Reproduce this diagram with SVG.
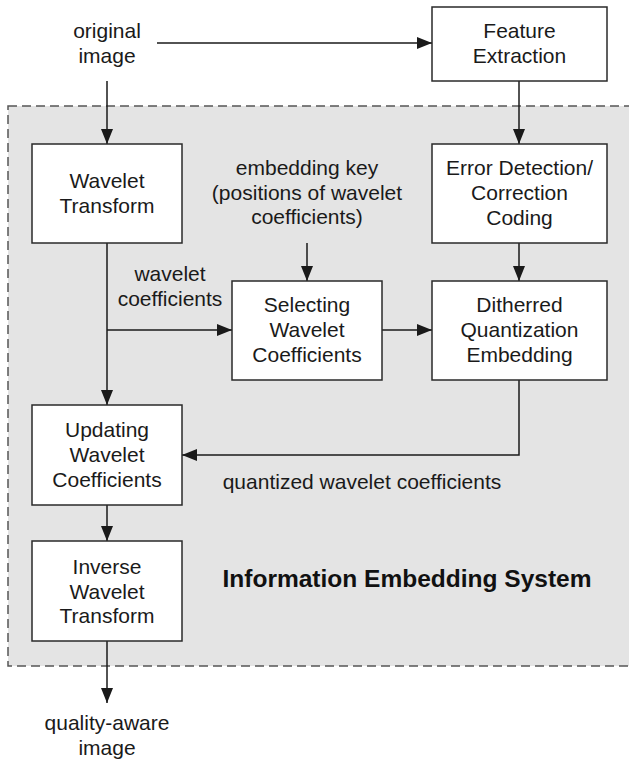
<svg xmlns="http://www.w3.org/2000/svg" width="629" height="759" viewBox="0 0 629 759">
  <style>
    .box { fill: #ffffff; stroke: #2a2a2a; stroke-width: 1.5; }
    .lbl { font-family: "Liberation Sans", Arial, sans-serif; font-size: 21px; fill: #1a1a1a; text-anchor: middle; }
    .title { font-family: "Liberation Sans", Arial, sans-serif; font-size: 24px; font-weight: bold; fill: #111111; text-anchor: middle; }
    .wire { fill: none; stroke: #1a1a1a; stroke-width: 1.5; }
    .arrow { marker-end: url(#head); }
  </style>
  <defs>
    <marker id="head" markerUnits="userSpaceOnUse" markerWidth="16" markerHeight="12" refX="15" refY="6" orient="auto">
      <path d="M0,0 L15,6 L0,12 z" fill="#1a1a1a"/>
    </marker>
  </defs>

  <rect width="629" height="759" fill="#ffffff"/>

  <!-- system boundary -->
  <g id="system">
    <rect x="8" y="106" width="660" height="560" fill="#e4e4e4" stroke="#555555" stroke-width="1.5" stroke-dasharray="9,5"/>
    <text class="title" x="407" y="587" textLength="369" lengthAdjust="spacingAndGlyphs">Information Embedding System</text>
  </g>

  <!-- free labels -->
  <g id="input-label">
    <text class="lbl" x="107" y="38">original</text>
    <text class="lbl" x="107" y="63">image</text>
  </g>
  <g id="key-label">
    <text class="lbl" x="307" y="175">embedding key</text>
    <text class="lbl" x="307" y="200">(positions of wavelet</text>
    <text class="lbl" x="307" y="224">coefficients)</text>
  </g>
  <g id="coeff-label">
    <text class="lbl" x="170" y="281">wavelet</text>
    <text class="lbl" x="170" y="306">coefficients</text>
  </g>
  <g id="quant-label">
    <text class="lbl" x="362" y="489">quantized wavelet coefficients</text>
  </g>
  <g id="output-label">
    <text class="lbl" x="107" y="730">quality-aware</text>
    <text class="lbl" x="107" y="755">image</text>
  </g>

  <!-- connectors -->
  <g id="connectors">
    <path class="wire arrow" d="M157,43 H432"/>
    <path class="wire arrow" d="M107,81 V144"/>
    <path class="wire arrow" d="M519,81 V144"/>
    <path class="wire arrow" d="M519,243 V281"/>
    <path class="wire arrow" d="M307,243 V281"/>
    <path class="wire arrow" d="M382,330 H432"/>
    <path class="wire arrow" d="M107,243 V405"/>
    <path class="wire arrow" d="M107,330 H232"/>
    <path class="wire arrow" d="M519,380 V455 H182"/>
    <path class="wire arrow" d="M107,505 V541"/>
    <path class="wire arrow" d="M107,641 V703"/>
  </g>

  <!-- nodes -->
  <g id="feature-extraction">
    <rect class="box" x="432" y="7" width="175" height="74"/>
    <text class="lbl" x="519.5" y="38">Feature</text>
    <text class="lbl" x="519.5" y="63">Extraction</text>
  </g>
  <g id="wavelet-transform">
    <rect class="box" x="32" y="144" width="150" height="99"/>
    <text class="lbl" x="107" y="188">Wavelet</text>
    <text class="lbl" x="107" y="213">Transform</text>
  </g>
  <g id="error-coding">
    <rect class="box" x="432" y="144" width="175" height="99"/>
    <text class="lbl" x="519.5" y="175">Error Detection/</text>
    <text class="lbl" x="519.5" y="200">Correction</text>
    <text class="lbl" x="519.5" y="225">Coding</text>
  </g>
  <g id="selecting">
    <rect class="box" x="232" y="281" width="150" height="99"/>
    <text class="lbl" x="307" y="312">Selecting</text>
    <text class="lbl" x="307" y="337">Wavelet</text>
    <text class="lbl" x="307" y="362">Coefficients</text>
  </g>
  <g id="dithered-embedding">
    <rect class="box" x="432" y="281" width="175" height="99"/>
    <text class="lbl" x="519.5" y="312">Ditherred</text>
    <text class="lbl" x="519.5" y="337">Quantization</text>
    <text class="lbl" x="519.5" y="362">Embedding</text>
  </g>
  <g id="updating">
    <rect class="box" x="32" y="405" width="150" height="100"/>
    <text class="lbl" x="107" y="437">Updating</text>
    <text class="lbl" x="107" y="462">Wavelet</text>
    <text class="lbl" x="107" y="487">Coefficients</text>
  </g>
  <g id="inverse-transform">
    <rect class="box" x="32" y="541" width="150" height="100"/>
    <text class="lbl" x="107" y="574">Inverse</text>
    <text class="lbl" x="107" y="599">Wavelet</text>
    <text class="lbl" x="107" y="623">Transform</text>
  </g>
</svg>
